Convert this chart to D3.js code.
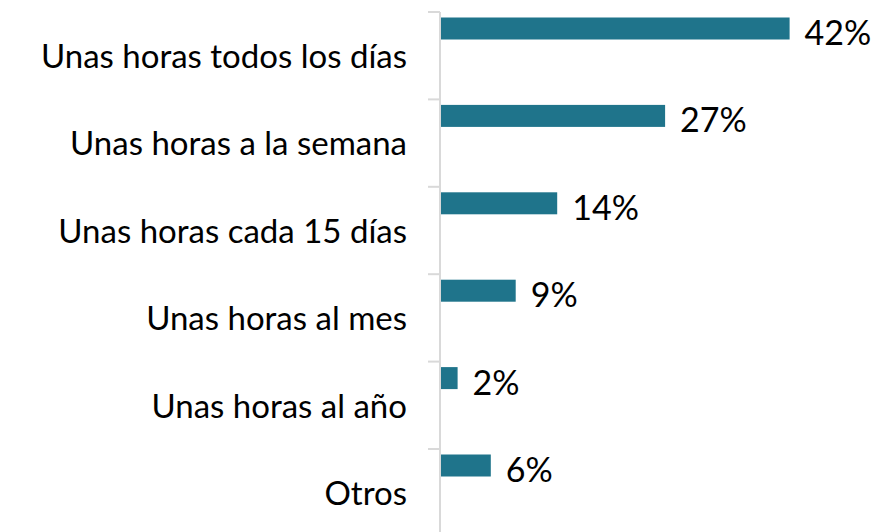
<!DOCTYPE html>
<html>
<head>
<meta charset="utf-8">
<script src="https://cdn.jsdelivr.net/npm/d3@7"></script>
<style>
  body { margin: 0; background: #fff; }
  svg { display: block; font-family: Lato, "Open Sans", sans-serif; }
</style>
</head>
<body>
<div id="chart"></div>
<script>
const categories = [
  "Unas horas todos los días",
  "Unas horas a la semana",
  "Unas horas cada 15 días",
  "Unas horas al mes",
  "Unas horas al año",
  "Otros"
];
const values = [42, 27, 14, 9, 2, 6];
const valueLabels = ["42%", "27%", "14%", "9%", "2%", "6%"];

const width = 879, height = 532;
const axisX = 440;

const svg = d3.select("#chart")
  .append("svg")
  .attr("width", width)
  .attr("height", height);

const y = d3.scaleBand()
  .domain(categories)
  .range([12, 12 + 6 * 87.4])
  .paddingInner(0);

const x = d3.scaleLinear()
  .domain([0, 45])
  .range([axisX + 1, axisX + 1 + 45 * 8.3]);

// axis line + category separators
svg.append("line")
  .attr("x1", axisX).attr("x2", axisX)
  .attr("y1", y.range()[0]).attr("y2", height)
  .attr("stroke", "#d9d9d9")
  .attr("stroke-width", 2);

svg.selectAll(".sep")
  .data(categories)
  .join("line")
  .attr("class", "sep")
  .attr("x1", axisX - 12).attr("x2", axisX)
  .attr("y1", d => y(d)).attr("y2", d => y(d))
  .attr("stroke", "#d9d9d9")
  .attr("stroke-width", 2);

// bars
svg.selectAll(".bar")
  .data(categories)
  .join("rect")
  .attr("class", "bar")
  .attr("x", x(0))
  .attr("y", d => y(d) + 5.5)
  .attr("width", (d, i) => x(values[i]) - x(0))
  .attr("height", 22)
  .attr("fill", "#1f748b");

// value labels
svg.selectAll(".val")
  .data(categories)
  .join("text")
  .attr("class", "val")
  .attr("x", (d, i) => x(values[i]) + 15)
  .attr("y", d => y(d) + 33)
  .attr("font-size", 34)
  .attr("fill", "#000")
  .text((d, i) => valueLabels[i]);

// category labels
svg.selectAll(".cat")
  .data(categories)
  .join("text")
  .attr("class", "cat")
  .attr("x", 407)
  .attr("y", d => y(d) + 56)
  .attr("text-anchor", "end")
  .attr("font-size", 33)
  .attr("fill", "#000")
  .text(d => d);
</script>
</body>
</html>
